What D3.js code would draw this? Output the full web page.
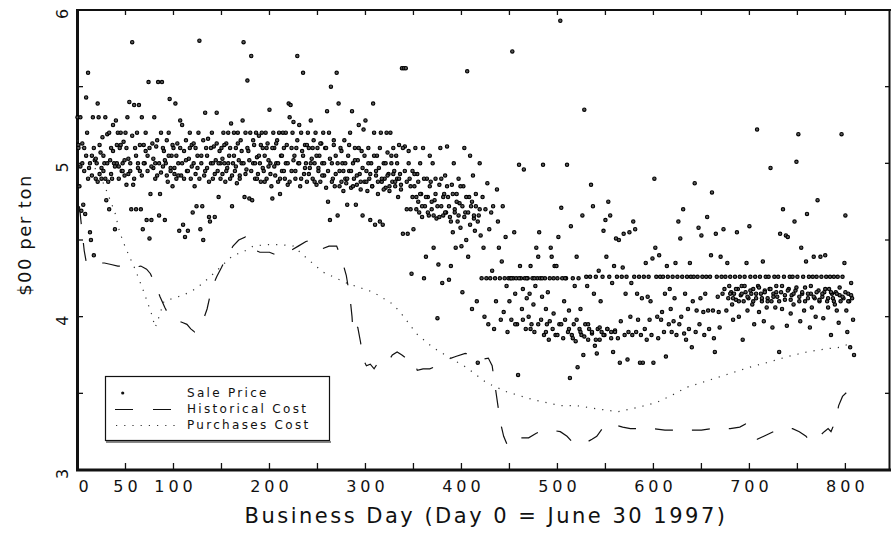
<!DOCTYPE html>
<html lang="en">
<head>
<meta charset="UTF-8">
<title>Sale Price and Cost per Ton</title>
<script src="https://cdn.jsdelivr.net/npm/d3@7"></script>
<style>
  body { margin: 0; background: #fff; }
  svg text { font-family: "DejaVu Sans", sans-serif; fill: #111; }
  .tick-label { font-size: 16px; letter-spacing: 4px; }
  .x-title { font-size: 21px; letter-spacing: 2.5px; }
  .y-title { font-size: 18px; letter-spacing: 1.5px; }
  .legend-text { font-size: 12px; letter-spacing: 2.3px; }
</style>
</head>
<body>
<svg id="chart" width="891" height="533"></svg>
<script>
// sale price per business day (index = day)
const salePrice = [
  5.30,5.12,4.85,5.30,4.69,5.00,4.73,5.10,4.67,5.43,
  5.20,5.59,4.97,4.55,4.50,5.05,5.30,4.40,5.02,4.90,
  5.00,5.39,5.30,4.93,5.07,4.90,5.17,4.95,5.00,5.30,
  4.76,5.19,4.88,4.70,5.02,5.10,4.90,5.25,5.00,4.57,
  5.28,5.12,5.20,4.98,5.10,5.20,4.95,5.00,5.14,4.92,
  5.20,4.86,5.30,5.03,5.40,4.95,4.70,5.79,4.86,5.38,
  5.10,4.70,5.20,5.00,5.38,4.95,4.70,5.30,4.57,5.12,
  5.00,5.20,4.63,5.05,5.53,4.51,4.80,4.63,5.13,4.97,
  5.30,5.00,5.11,4.92,5.53,4.66,4.80,5.20,5.53,4.98,
  5.08,4.63,5.00,5.15,4.88,5.20,5.42,4.95,5.05,4.85,
  5.10,4.93,5.39,4.90,5.13,5.00,4.56,5.28,4.92,5.25,
  4.60,5.08,4.52,5.15,4.95,4.56,5.03,5.20,4.90,5.12,
  4.68,5.00,4.85,5.10,4.72,4.97,5.20,5.80,4.57,5.05,
  4.72,4.50,4.92,5.33,5.10,4.97,5.16,4.65,4.62,5.00,
  5.20,4.90,5.11,4.65,5.02,5.33,4.95,4.78,5.08,5.00,
  5.10,4.93,5.20,5.00,4.88,5.13,4.97,5.20,5.05,4.90,
  5.26,4.72,5.00,5.20,4.95,5.10,4.87,5.20,5.02,4.92,
  5.15,5.00,5.28,5.79,4.78,5.20,4.96,5.54,5.08,4.77,
  5.20,5.70,4.76,5.00,5.12,4.90,5.20,5.04,4.93,5.18,
  5.00,4.88,5.20,5.10,4.95,5.05,5.20,4.90,5.13,4.98,
  5.35,5.00,4.85,4.77,5.20,5.10,4.92,5.00,5.15,4.88,
  5.20,4.80,5.05,4.95,5.20,5.10,4.90,5.00,5.12,4.86,
  5.39,5.30,5.38,4.95,5.20,5.27,5.05,4.90,5.10,5.70,
  5.00,5.25,4.85,5.20,5.08,5.59,4.93,5.12,5.00,4.88,
  5.20,5.10,4.97,5.28,5.03,4.90,5.15,5.00,5.20,4.86,
  5.10,4.95,5.05,4.88,5.13,5.00,5.20,4.92,5.10,4.84,
  5.34,4.75,5.20,4.63,5.50,5.00,4.90,5.12,4.85,5.05,
  5.59,4.66,5.39,4.95,5.10,4.88,5.00,4.82,5.15,4.90,
  4.87,4.73,5.05,4.95,5.20,4.84,5.34,5.00,4.90,5.10,
  4.73,4.86,5.02,5.25,4.93,4.83,5.08,4.66,5.22,4.88,
  5.28,4.95,4.82,5.10,4.90,4.63,5.00,4.85,5.39,5.20,
  4.60,4.92,5.05,4.80,4.97,4.62,5.20,4.88,4.60,5.00,
  4.90,4.84,5.20,5.07,4.93,4.82,5.20,5.00,4.88,5.10,
  4.95,4.85,5.05,4.90,4.78,5.12,4.93,4.86,5.62,4.54,
  5.62,5.11,5.62,4.70,4.54,5.08,4.90,4.70,4.28,4.95,
  4.57,4.85,5.10,4.78,4.93,4.75,4.68,5.00,4.80,4.65,
  5.10,4.25,4.72,4.39,4.90,4.78,4.66,5.05,4.88,4.70,
  5.00,4.45,4.76,4.90,4.64,3.99,4.34,4.86,5.10,4.72,
  4.22,4.66,4.80,4.92,4.68,5.11,4.78,4.24,4.65,4.33,
  4.86,4.55,5.00,4.70,4.45,4.80,4.62,4.90,4.74,4.58,
  4.46,4.16,4.85,5.10,4.68,4.50,5.60,4.39,4.78,5.05,
  4.72,4.05,4.92,4.64,4.56,4.80,4.10,3.70,4.66,5.00,
  4.53,4.25,4.78,4.45,4.00,4.70,4.25,4.87,3.95,4.57,
  4.25,4.68,4.30,4.72,3.92,4.25,4.10,4.83,4.62,4.45,
  4.25,3.98,4.36,4.72,4.03,4.25,4.52,4.20,3.90,4.25,
  4.10,4.25,3.98,5.73,4.25,4.55,4.15,4.25,3.95,3.62,
  4.99,4.33,4.25,4.05,4.18,4.96,4.25,3.92,4.12,4.25,
  4.00,4.15,4.33,3.95,4.25,4.08,3.90,4.20,4.45,4.25,
  4.39,4.55,4.25,3.98,4.13,4.99,3.88,4.25,4.05,3.95,
  4.16,3.85,4.25,4.45,4.39,3.92,4.02,4.33,3.88,4.33,
  4.25,4.52,3.95,5.93,4.71,4.25,3.86,4.10,3.98,4.25,
  4.99,3.90,4.04,3.60,4.59,3.88,4.25,3.95,4.20,3.84,
  4.39,3.67,4.25,3.92,4.05,3.88,4.66,3.75,5.35,3.95,
  4.26,4.20,3.85,3.92,4.26,4.86,3.89,4.72,4.15,3.81,
  4.26,3.76,3.92,4.30,3.85,4.10,3.90,4.26,4.56,3.88,
  4.63,4.39,3.92,4.75,4.26,4.66,3.90,4.22,3.77,4.33,
  3.91,4.51,4.26,3.86,4.50,3.70,3.97,4.26,4.32,4.54,
  3.88,4.15,4.26,3.72,3.90,4.55,4.00,4.22,3.88,4.62,
  4.26,4.57,3.90,4.15,3.98,4.26,3.70,3.88,4.12,3.70,
  4.26,3.92,4.35,3.85,4.13,4.26,3.98,4.10,3.88,4.38,
  3.70,4.90,4.45,4.26,4.00,3.86,4.40,4.26,3.98,4.03,
  4.26,3.90,4.15,3.74,4.33,4.26,3.95,4.18,4.05,3.90,
  4.26,3.97,4.12,4.35,3.88,4.26,4.62,3.95,4.51,4.00,
  4.26,4.70,3.89,4.15,3.85,4.26,4.05,3.92,4.35,4.26,
  3.80,4.10,4.26,4.87,3.90,4.04,4.26,4.58,3.95,4.12,
  4.53,4.26,4.03,3.88,4.15,4.26,4.65,4.04,3.92,4.26,
  4.40,4.81,4.04,3.86,3.77,4.54,4.26,4.13,4.03,3.93,
  4.39,4.26,4.15,4.57,4.18,4.26,4.04,4.35,4.12,4.20,
  4.26,4.16,4.08,3.98,4.15,4.26,4.11,4.55,4.18,4.00,
  4.26,4.14,4.20,3.85,4.10,4.26,4.16,4.35,4.04,4.12,
  4.59,4.26,4.15,4.08,4.18,3.95,4.26,4.12,5.22,4.20,
  4.03,4.26,4.15,4.10,4.36,3.97,4.17,4.26,4.06,4.12,
  4.26,4.18,4.97,4.10,3.93,4.15,4.26,4.06,4.20,4.13,
  4.26,3.77,4.54,4.16,4.05,4.70,4.26,4.11,4.53,3.94,
  4.52,4.18,4.26,4.02,4.14,4.26,4.08,4.62,4.17,5.01,
  4.26,5.19,4.10,3.97,4.45,4.15,4.26,4.04,4.19,4.36,
  4.67,4.12,4.26,3.93,4.15,4.06,4.26,4.39,4.12,4.00,
  4.26,4.76,4.17,4.10,4.39,4.26,4.13,3.99,4.16,4.40,
  4.26,4.10,4.06,4.18,4.26,3.88,4.15,4.12,4.26,4.08,
  4.16,4.04,4.26,3.96,4.14,4.10,5.19,4.26,4.12,4.35,
  4.66,4.04,3.90,4.15,4.10,3.80,4.22,4.12,3.98,3.75
];

// second sales on busy days: days 1,3,5 ... 419
const extraA = [
  5.10,4.98,5.13,4.95,5.05,4.90,5.00,4.92,5.10,5.03,
  4.88,5.12,4.97,5.05,4.90,5.00,5.20,4.93,5.08,4.98,
  5.00,4.90,5.12,4.95,5.02,5.10,4.93,5.00,5.18,4.90,
  5.05,4.97,5.12,4.92,5.00,5.08,4.95,5.10,4.98,5.03,
  4.90,5.15,5.00,4.94,5.10,5.02,4.92,5.05,4.97,5.12,
  4.97,5.05,4.92,5.10,5.00,4.90,5.02,4.95,5.10,4.98,
  5.13,4.93,5.05,4.90,5.00,5.15,4.95,5.05,4.88,5.10,
  5.00,4.93,5.13,5.00,4.90,5.03,5.12,4.95,5.00,5.10,
  4.92,5.05,4.98,5.13,4.90,5.08,5.00,4.93,5.10,5.02,
  4.95,5.15,5.00,4.90,5.05,5.12,4.97,4.88,5.10,5.02,
  4.93,5.10,4.98,5.13,5.00,4.90,5.05,4.95,5.20,5.00,
  4.88,5.10,5.02,4.95,5.15,5.00,4.90,5.05,4.97,5.12,
  4.93,5.00,5.10,4.88,5.05,4.97,5.13,4.92,5.00,5.10,
  4.95,5.03,4.88,5.15,4.93,5.00,4.85,5.08,4.95,5.00,
  4.90,5.12,4.95,4.85,5.02,4.92,5.10,4.88,4.97,5.05,
  4.88,5.00,4.93,4.85,5.05,4.95,4.88,5.10,4.90,4.83,
  5.00,4.92,4.85,5.05,4.93,4.88,5.00,4.90,4.83,5.10,
  4.95,4.88,5.00,4.85,4.78,4.93,4.70,4.88,4.80,4.72,
  4.90,4.78,4.68,4.85,4.75,4.66,4.80,4.72,4.65,4.90,
  4.78,4.68,4.85,4.72,4.62,4.80,4.68,4.75,4.66,4.85,
  4.72,4.65,4.78,4.68,4.60,4.75,4.66,4.72,4.62,4.70
];
// second sales: days 452,456 ... 560
const extraB = [4.25,3.95,4.25,3.98,4.25,3.92,4.25,3.95,4.25,3.90,3.97,4.25,3.88,3.95,
  4.25,3.92,3.86,3.98,3.90,3.87,3.95,3.90,3.85,3.93,3.88,3.92,3.86,3.90];
// second sales: days 680,683 ... 806
const extraC = [4.15,4.12,4.18,4.10,4.15,4.20,4.13,4.17,4.10,4.15,4.19,4.12,4.16,4.10,4.18,
  4.13,4.16,4.10,4.20,4.14,4.17,4.11,4.15,4.19,4.13,4.16,4.10,4.15,4.20,4.13,4.16,4.11,
  4.15,4.18,4.12,4.16,4.10,4.15,4.19,4.13,4.16,4.10,4.14];

const histDay = [2,4,7,9,11,14,18,22,28,35,42,50,58,66,72,76,81,86,91,95,
  100,106,110,114,118,122,125,130,135,140,145,150,156,162,168,175,179,183,190,200,
  208,215,222,230,238,243,248,254,262,270,275,280,284,286,287,289,292,295,297,301,
  305,309,313,318,323,328,333,338,344,350,354,360,367,375,385,394,404,412,421,428,
  432,435,438,441,444,448,452,456,463,470,478,486,494,503,510,516,523,530,536,541,
  549,556,562,568,576,588,600,612,628,640,650,660,668,680,690,696,700,704,708,715,
  725,735,745,752,759,763,768,773,778,782,785,787,790,793,797,802,808];
const histCost = [4.72,4.60,4.43,4.36,4.35,4.36,4.34,4.35,4.35,4.34,4.33,4.33,4.32,4.33,4.31,4.28,4.21,4.13,4.06,4.01,
  3.98,3.97,3.96,3.95,3.92,3.90,3.92,3.96,4.05,4.19,4.26,4.32,4.40,4.46,4.50,4.52,4.50,4.44,4.42,4.42,
  4.40,4.41,4.43,4.46,4.49,4.50,4.48,4.44,4.46,4.46,4.38,4.27,4.12,4.00,3.90,3.94,3.93,3.83,3.73,3.68,
  3.69,3.66,3.70,3.69,3.70,3.75,3.77,3.75,3.72,3.72,3.65,3.66,3.66,3.68,3.72,3.74,3.76,3.75,3.72,3.73,
  3.68,3.55,3.42,3.30,3.22,3.16,3.18,3.21,3.21,3.21,3.24,3.26,3.26,3.25,3.22,3.18,3.17,3.18,3.20,3.22,
  3.29,3.30,3.29,3.28,3.27,3.27,3.27,3.26,3.26,3.26,3.26,3.27,3.27,3.27,3.28,3.30,3.27,3.22,3.20,3.22,
  3.25,3.27,3.27,3.25,3.22,3.19,3.19,3.22,3.25,3.27,3.25,3.28,3.33,3.42,3.48,3.51,3.53];

const purchDay = [0,10,20,27,31,34,39,44,50,60,68,77,81,85,90,100,110,120,131,145,
  162,172,183,197,211,225,239,256,280,308,329,340,353,370,391,405,426,447,474,503,
  520,540,563,585,603,620,635,660,680,700,718,740,760,780,794,803];
const purchCost = [5.15,5.05,4.95,4.87,4.81,4.76,4.68,4.55,4.45,4.31,4.18,4.02,3.93,4.00,4.10,4.12,4.14,4.17,4.22,4.30,
  4.40,4.42,4.46,4.47,4.47,4.46,4.38,4.29,4.22,4.16,4.08,4.00,3.89,3.80,3.72,3.67,3.57,3.51,3.46,3.42,
  3.42,3.40,3.38,3.41,3.44,3.49,3.54,3.59,3.63,3.67,3.70,3.74,3.77,3.79,3.80,3.82];

const xTickLabels = [0, 50, 100, 200, 300, 400, 500, 600, 700, 800];
const yTickLabels = [3, 4, 5, 6];
const legendNames = ["Sale Price", "Historical Cost", "Purchases Cost"];

// all sales as [day, price]
const sales = salePrice.map((p, i) => [i, p])
  .concat(extraA.map((p, i) => [1 + 2 * i, p]))
  .concat(extraB.map((p, i) => [452 + 4 * i, p]))
  .concat(extraC.map((p, i) => [680 + 3 * i, p]));

const svg = d3.select("#chart");
const x = d3.scaleLinear().domain([0, 847]).range([77.5, 890.5]);
const y = d3.scaleLinear().domain([3, 6]).range([470, 10]);

// frame
svg.append("line").attr("x1", 77).attr("x2", 891).attr("y1", 10).attr("y2", 10)
  .attr("stroke", "#111").attr("stroke-width", 2);
svg.append("line").attr("x1", 889.5).attr("x2", 889.5).attr("y1", 10).attr("y2", 470)
  .attr("stroke", "#111").attr("stroke-width", 2);
svg.append("line").attr("x1", 77.5).attr("x2", 77.5).attr("y1", 9).attr("y2", 471)
  .attr("stroke", "#111").attr("stroke-width", 3);
svg.append("line").attr("x1", 76).attr("x2", 891).attr("y1", 470).attr("y2", 470)
  .attr("stroke", "#111").attr("stroke-width", 3);

// ticks
const xt = d3.range(50, 801, 50);
const yt = d3.range(3.5, 5.6, 0.5);
const tk = svg.append("g").attr("stroke", "#111").attr("stroke-width", 1.3);
tk.selectAll(".xb").data(xt).join("line")
  .attr("x1", d => x(d)).attr("x2", d => x(d)).attr("y1", 470).attr("y2", 463);
tk.selectAll(".xt").data(xt).join("line")
  .attr("x1", d => x(d)).attr("x2", d => x(d)).attr("y1", 10).attr("y2", 15);
tk.selectAll(".yl").data(yt).join("line")
  .attr("x1", 77).attr("x2", 83).attr("y1", d => y(d)).attr("y2", d => y(d));
tk.selectAll(".yr").data(yt).join("line")
  .attr("x1", 885).attr("x2", 889).attr("y1", d => y(d)).attr("y2", d => y(d));

// tick labels
svg.selectAll(".xl").data(xTickLabels).join("text")
  .attr("class", "tick-label")
  .attr("x", d => d === 0 ? x(d) + 1 : x(d) + 2)
  .attr("y", 492)
  .attr("text-anchor", d => d === 0 ? "start" : "middle")
  .text(d => d);
svg.selectAll(".ylab").data(yTickLabels).join("text")
  .attr("class", "tick-label")
  .attr("transform", d => `translate(68,${y(d) + 2}) rotate(-90)`)
  .attr("text-anchor", "middle")
  .text(d => d);

svg.append("text").attr("class", "x-title")
  .attr("x", 486).attr("y", 523).attr("text-anchor", "middle")
  .text("Business Day (Day 0 = June 30 1997)");
svg.append("text").attr("class", "y-title")
  .attr("transform", "translate(31,235) rotate(-90)")
  .attr("text-anchor", "middle")
  .text("$00 per ton");

// lines
const costLine = d3.line().x(d => x(d[0])).y(d => y(d[1]));
svg.append("path")
  .datum(d3.zip(histDay, histCost))
  .attr("d", costLine)
  .attr("fill", "none").attr("stroke", "#111").attr("stroke-width", 1.2)
  .attr("stroke-dasharray", "18,19");
svg.append("path")
  .datum(d3.zip(purchDay, purchCost))
  .attr("d", costLine)
  .attr("fill", "none").attr("stroke", "#333").attr("stroke-width", 1.2)
  .attr("stroke-dasharray", "1.2,7");

// sale price points
svg.append("g").selectAll("circle").data(sales).join("circle")
  .attr("cx", d => x(d[0]))
  .attr("cy", d => y(d[1]))
  .attr("r", 1.7)
  .attr("fill", "#5a5a5a")
  .attr("stroke", "#000")
  .attr("stroke-width", 1.1);

// legend
const lg = svg.append("g");
lg.append("line").attr("x1", 106).attr("x2", 331).attr("y1", 442).attr("y2", 442)
  .attr("stroke", "#888").attr("stroke-width", 2);
lg.append("rect").attr("x", 105.5).attr("y", 376.5).attr("width", 224).attr("height", 64)
  .attr("fill", "#fff").attr("stroke", "#111").attr("stroke-width", 1.2);
lg.append("circle").attr("cx", 122.7).attr("cy", 393).attr("r", 1.6).attr("fill", "#111");
lg.append("line").attr("x1", 115).attr("x2", 172).attr("y1", 409.5).attr("y2", 409.5)
  .attr("stroke", "#111").attr("stroke-width", 1.2).attr("stroke-dasharray", "18,20");
lg.append("line").attr("x1", 116).attr("x2", 176).attr("y1", 425.5).attr("y2", 425.5)
  .attr("stroke", "#333").attr("stroke-width", 1.2).attr("stroke-dasharray", "1.2,7");
lg.selectAll("text").data(legendNames).join("text")
  .attr("class", "legend-text")
  .attr("x", 187)
  .attr("y", (d, i) => 397 + i * 16)
  .text(d => d);
</script>
</body>
</html>
